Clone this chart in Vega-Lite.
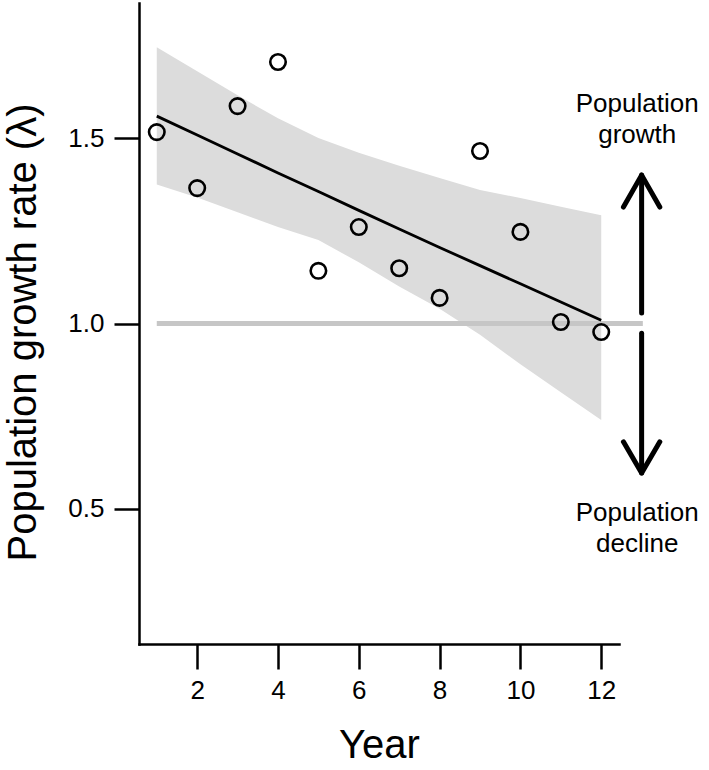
{
  "$schema": "https://vega.github.io/schema/vega-lite/v6.json",
  "width": 480,
  "height": 641,
  "autosize": {"type": "none"},
  "padding": {"left": 139, "top": 3, "right": 90, "bottom": 126},
  "background": "white",
  "config": {"view": {"stroke": null}, "font": "Liberation Sans"},
  "datasets": {
    "pts": [
      {"year": 1, "lambda": 1.516}, {"year": 2, "lambda": 1.365}, {"year": 3, "lambda": 1.586},
      {"year": 4, "lambda": 1.705}, {"year": 5, "lambda": 1.142}, {"year": 6, "lambda": 1.26},
      {"year": 7, "lambda": 1.149}, {"year": 8, "lambda": 1.069}, {"year": 9, "lambda": 1.465},
      {"year": 10, "lambda": 1.247}, {"year": 11, "lambda": 1.004}, {"year": 12, "lambda": 0.977}
    ],
    "fit": [
      {"year": 1, "fit": 1.559, "lower": 1.375, "upper": 1.745},
      {"year": 2, "fit": 1.508, "lower": 1.34, "upper": 1.68},
      {"year": 3, "fit": 1.457, "lower": 1.3, "upper": 1.615},
      {"year": 4, "fit": 1.406, "lower": 1.26, "upper": 1.553},
      {"year": 5, "fit": 1.356, "lower": 1.225, "upper": 1.5},
      {"year": 6, "fit": 1.305, "lower": 1.165, "upper": 1.46},
      {"year": 7, "fit": 1.255, "lower": 1.1, "upper": 1.425},
      {"year": 8, "fit": 1.205, "lower": 1.04, "upper": 1.392},
      {"year": 9, "fit": 1.156, "lower": 0.97, "upper": 1.36},
      {"year": 10, "fit": 1.107, "lower": 0.89, "upper": 1.338},
      {"year": 11, "fit": 1.058, "lower": 0.815, "upper": 1.315},
      {"year": 12, "fit": 1.009, "lower": 0.74, "upper": 1.292}
    ],
    "ref": [{"year": 1, "lambda": 1}, {"year": 13.03, "lambda": 1}],
    "arrows": [
      {"seg": "upshaft", "o": 1, "x": 13, "y": 1.028},
      {"seg": "upshaft", "o": 2, "x": 13, "y": 1.4},
      {"seg": "uphead", "o": 1, "x": 12.55, "y": 1.314},
      {"seg": "uphead", "o": 2, "x": 13, "y": 1.4},
      {"seg": "uphead", "o": 3, "x": 13.45, "y": 1.314},
      {"seg": "downshaft", "o": 1, "x": 13, "y": 0.974},
      {"seg": "downshaft", "o": 2, "x": 13, "y": 0.597},
      {"seg": "downhead", "o": 1, "x": 12.55, "y": 0.681},
      {"seg": "downhead", "o": 2, "x": 13, "y": 0.597},
      {"seg": "downhead", "o": 3, "x": 13.45, "y": 0.681}
    ],
    "labels": [
      {"x": 12.89, "y": 1.57, "t": "Population"},
      {"x": 12.89, "y": 1.487, "t": "growth"},
      {"x": 12.89, "y": 0.468, "t": "Population"},
      {"x": 12.89, "y": 0.384, "t": "decline"}
    ]
  },
  "layer": [
    {
      "data": {"name": "fit"},
      "mark": {"type": "area", "color": "#dcdcdc", "opacity": 1},
      "encoding": {
        "x": {
          "field": "year", "type": "quantitative",
          "scale": {"domain": [0.56, 12.44], "nice": false, "zero": false},
          "axis": {
            "values": [2, 4, 6, 8, 10, 12], "grid": false, "labelOverlap": false,
            "labelFontSize": 26, "labelColor": "black", "labelPadding": 8,
            "tickSize": 25, "tickWidth": 2.5, "tickColor": "black",
            "domainColor": "black", "domainWidth": 2.5, "domainCap": "square",
            "title": "Year", "titleFontSize": 40, "titleFontWeight": "normal", "titleColor": "black",
            "titleBaseline": "middle", "titleY": 101
          }
        },
        "y": {
          "field": "upper", "type": "quantitative",
          "scale": {"domain": [0.136, 1.864], "nice": false, "zero": false},
          "axis": {
            "values": [0.5, 1, 1.5], "format": ".1f", "grid": false, "labelOverlap": false,
            "labelFontSize": 26, "labelColor": "black", "labelPadding": 10,
            "tickSize": 25, "tickWidth": 2.5, "tickColor": "black",
            "domainColor": "black", "domainWidth": 2.5, "domainCap": "square",
            "title": "Population growth rate (λ)", "titleFontSize": 40, "titleFontWeight": "normal",
            "titleColor": "black", "titleAngle": -90, "titleBaseline": "middle", "titleAlign": "center",
            "titleX": -116, "titleY": 329
          }
        },
        "y2": {"field": "lower"}
      }
    },
    {
      "data": {"name": "ref"},
      "mark": {"type": "line", "color": "#c6c6c6", "strokeWidth": 5, "strokeCap": "butt"},
      "encoding": {
        "x": {"field": "year", "type": "quantitative"},
        "y": {"field": "lambda", "type": "quantitative"}
      }
    },
    {
      "data": {"name": "fit"},
      "mark": {"type": "line", "color": "black", "strokeWidth": 2.8},
      "encoding": {
        "x": {"field": "year", "type": "quantitative"},
        "y": {"field": "fit", "type": "quantitative"}
      }
    },
    {
      "data": {"name": "pts"},
      "mark": {"type": "point", "shape": "circle", "filled": false, "stroke": "black", "strokeWidth": 2.6, "size": 240, "opacity": 1},
      "encoding": {
        "x": {"field": "year", "type": "quantitative"},
        "y": {"field": "lambda", "type": "quantitative"}
      }
    },
    {
      "data": {"name": "arrows"},
      "mark": {"type": "line", "color": "black", "strokeWidth": 5, "strokeCap": "round", "strokeJoin": "round"},
      "encoding": {
        "x": {"field": "x", "type": "quantitative"},
        "y": {"field": "y", "type": "quantitative"},
        "detail": {"field": "seg"},
        "order": {"field": "o"}
      }
    },
    {
      "data": {"name": "labels"},
      "mark": {"type": "text", "fontSize": 26, "color": "black", "align": "center", "baseline": "alphabetic"},
      "encoding": {
        "x": {"field": "x", "type": "quantitative"},
        "y": {"field": "y", "type": "quantitative"},
        "text": {"field": "t"}
      }
    }
  ]
}
